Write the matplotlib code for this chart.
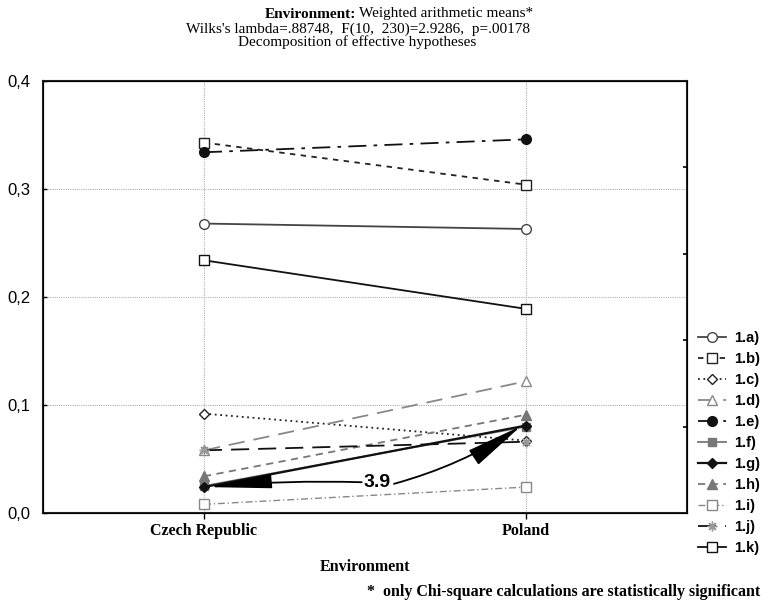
import numpy as np
import matplotlib
matplotlib.use("Agg")
import matplotlib.pyplot as plt

# data
countries = ["Czech Republic", "Poland"]
labels = ["1.a)", "1.b)", "1.c)", "1.d)", "1.e)", "1.f)", "1.g)", "1.h)", "1.i)", "1.j)", "1.k)"]
v_1a = [0.268, 0.263]
v_1b = [0.343, 0.304]
v_1c = [0.092, 0.067]
v_1d = [0.058, 0.122]
v_1e = [0.334, 0.346]
v_1f = [0.025, 0.080]
v_1g = [0.024, 0.081]
v_1h = [0.034, 0.091]
v_1i = [0.008, 0.024]
v_1j = [0.058, 0.066]
v_1k = [0.234, 0.189]
yticks = [0.0, 0.1, 0.2, 0.3, 0.4]
ytick_labels = ["0,0", "0,1", "0,2", "0,3", "0,4"]

series = [v_1a, v_1b, v_1c, v_1d, v_1e, v_1f, v_1g, v_1h, v_1i, v_1j, v_1k]

# style for each series
styles = [
    dict(color="#444444", dashes=(), marker="o", mfc="white", ms=7, lw=1.3),
    dict(color="#222222", dashes=(3, 3), marker="s", mfc="white", ms=7, lw=1.3),
    dict(color="#222222", dashes=(1, 2), marker="D", mfc="white", ms=5.5, lw=1.3),
    dict(color="#888888", dashes=(9, 5), marker="^", mfc="white", ms=7, lw=1.3),
    dict(color="#111111", dashes=(10, 4, 2, 4), marker="o", mfc="#111111", ms=7, lw=1.3),
    dict(color="#777777", dashes=(), marker="s", mfc="#777777", ms=6, lw=1.3),
    dict(color="#111111", dashes=(), marker="D", mfc="#111111", ms=5, lw=1.6),
    dict(color="#777777", dashes=(4, 3), marker="^", mfc="#777777", ms=7, lw=1.3),
    dict(color="#888888", dashes=(5, 2, 1, 2), marker="s", mfc="white", ms=6.5, lw=1.0),
    dict(color="#111111", dashes=(10, 5), marker=(8, 2, 0), mfc="white", ms=7, lw=1.3),
    dict(color="#111111", dashes=(), marker="s", mfc="white", ms=7, lw=1.3),
]
serif = "Liberation Serif"
sans = "Liberation Sans"
fs = 11.5

fig = plt.figure(figsize=(7.69, 6.07), dpi=100)
ax = fig.add_axes([43 / 769, 1 - 513 / 607, 644 / 769, 432 / 607])

x = np.arange(len(countries))
handles = []
for vals, st, lab in zip(series, styles, labels):
    mec = "#999999" if lab == "1.j)" else st["color"]
    ln, = ax.plot(x, vals, color=st["color"], lw=st["lw"], marker=st["marker"],
                  markerfacecolor=st["mfc"], markeredgecolor=mec,
                  markersize=st["ms"], label=lab, zorder=3)
    if st["dashes"]:
        ln.set_dashes(st["dashes"])
    handles.append(ln)

ax.set_xlim(-0.5, 1.5)
ax.set_ylim(0, 0.4)
ax.set_yticks(yticks)
ax.set_yticklabels(ytick_labels, family=sans, fontsize=12)
ax.set_xticks(x)
ax.set_xticklabels(countries, family=serif, fontweight="bold", fontsize=fs)
ax.tick_params(axis="y", direction="in", length=3, width=1, pad=9)
ax.tick_params(axis="x", direction="out", length=4, width=1)
ax.grid(True, color="#b0b0b0", linestyle=(0, (1, 1)), lw=0.8)
for sp in ax.spines.values():
    sp.set_linewidth(1.5)
    sp.set_color("#222222")

# right side ticks
axr = ax.twinx()
axr.set_ylim(0, 0.4)
axr.set_yticks([0.08, 0.16, 0.24, 0.32])
axr.set_yticklabels([])
axr.tick_params(axis="y", direction="in", length=3, width=1.2)

ax.set_xlabel("Environment", family=serif, fontweight="bold", fontsize=fs, labelpad=14)

# title
tfs = 11
fig.text(0.463, 1 - 14 / 607, "Environment:", family=serif, fontweight="bold",
         fontsize=tfs, ha="right", va="center")
fig.text(0.467, 1 - 14 / 607, "Weighted arithmetic means*", family=serif,
         fontsize=tfs, ha="left", va="center")
fig.text(0.465, 1 - 22.5 / 607,
         "Wilks's lambda=.88748,  F(10,  230)=2.9286,  p=.00178\nDecomposition of effective hypotheses",
         family=serif, fontsize=tfs, ha="center", va="top", linespacing=0.95,
         multialignment="center")

# arrows with 3.9
ax.text(0.539, 0.028, "3.9", family=sans, fontweight="bold", fontsize=14,
        ha="center", va="center", zorder=5)
ax.annotate("", xy=(0.01, 0.024), xytext=(0.49, 0.0285),
            arrowprops=dict(arrowstyle="-|>,head_length=2.0,head_width=0.22", color="black",
                            lw=1.3, mutation_scale=20, shrinkA=0, shrinkB=0,
                            connectionstyle="arc3,rad=0.03"), zorder=5)
ax.annotate("", xy=(0.985, 0.0806), xytext=(0.59, 0.027),
            arrowprops=dict(arrowstyle="-|>,head_length=1.8,head_width=0.27", color="black",
                            lw=1.3, mutation_scale=20, shrinkA=0, shrinkB=0,
                            connectionstyle="arc3,rad=0.08"), zorder=5)

leg = fig.legend(handles=handles, loc="upper left", bbox_to_anchor=(692 / 769, 1 - 325 / 607),
                 frameon=False, handlelength=1.9, handletextpad=0.6, labelspacing=0.48,
                 borderaxespad=0, prop=dict(family=sans, weight="bold", size=10.5))

fig.text(0.988, 1 - 592 / 607, "*  only Chi-square calculations are statistically significant",
         family=serif, fontweight="bold", fontsize=fs, ha="right", va="center")

fig.savefig("out.png", dpi=100)
